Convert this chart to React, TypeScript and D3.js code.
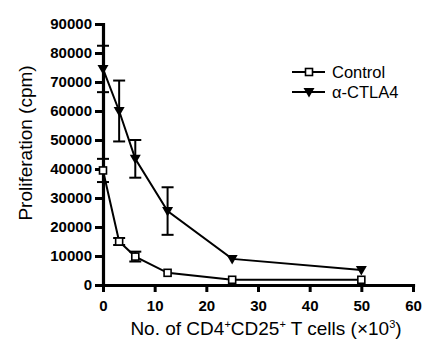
import React, { useEffect, useRef } from 'react';
import * as d3 from 'd3';

// valores
const cells = [0, 3.125, 6.25, 12.5, 25, 50];
const controlMean = [39500, 15000, 9800, 4200, 1800, 1800];
const controlErr = [4000, 1200, 1700, 0, 0, 0];
const ctlaMean = [74500, 60000, 43500, 25500, 9000, 5200];
const ctlaErr = [8000, 10500, 6500, 8200, 0, 0];
const xTicks = [0, 10, 20, 30, 40, 50, 60];
const yTicks = [0, 10000, 20000, 30000, 40000, 50000, 60000, 70000, 80000, 90000];
const seriesNames = ['Control', 'α-CTLA4'];

const W = 444;
const H = 358;
const margin = { top: 24, right: 31, bottom: 73, left: 103 };
const FONT = '"Liberation Sans", Arial, Helvetica, sans-serif';

const App = () => {
  const ref = useRef<SVGSVGElement | null>(null);

  useEffect(() => {
    const svg = d3.select(ref.current);
    svg.selectAll('*').remove();

    const x = d3.scaleLinear().domain([0, 60]).range([margin.left, W - margin.right]);
    const y = d3.scaleLinear().domain([0, 90000]).range([H - margin.bottom, margin.top]);

    // Ejes
    const gx = svg.append('g')
      .attr('transform', `translate(0,${y(0)})`)
      .call(d3.axisBottom(x).tickValues(xTicks).tickFormat(d3.format('d')).tickSize(7).tickSizeOuter(0).tickPadding(8));
    const gy = svg.append('g')
      .attr('transform', `translate(${x(0)},0)`)
      .call(d3.axisLeft(y).tickValues(yTicks).tickFormat(d3.format('d')).tickSize(8).tickSizeOuter(0).tickPadding(3));
    [gx, gy].forEach(g => {
      g.select('.domain').attr('stroke', '#000').attr('stroke-width', 3.2).attr('stroke-linecap', 'square');
      g.selectAll('.tick line').attr('stroke', '#000').attr('stroke-width', 3);
      g.selectAll('.tick text')
        .attr('fill', '#000')
        .style('font-family', FONT)
        .style('font-size', '15px')
        .style('font-weight', 'bold');
    });

    const line = d3.line<[number, number]>().x(d => x(d[0])).y(d => y(d[1]));

    const drawMarker = (g: any, cx: number, cy: number, kind: 'square' | 'tri') => {
      if (kind === 'square') {
        g.append('rect')
          .attr('x', cx - 3.5).attr('y', cy - 3.5).attr('width', 7).attr('height', 7)
          .attr('fill', '#fff').attr('stroke', '#000').attr('stroke-width', 1.6);
      } else {
        g.append('path')
          .attr('d', `M${cx - 5.5},${cy - 4}L${cx + 5.5},${cy - 4}L${cx},${cy + 5.5}Z`)
          .attr('fill', '#000');
      }
    };

    const drawSeries = (means: number[], errs: number[], kind: 'square' | 'tri') => {
      const g = svg.append('g');
      g.append('path')
        .datum(cells.map((c, i) => [c, means[i]] as [number, number]))
        .attr('d', line)
        .attr('fill', 'none')
        .attr('stroke', '#000')
        .attr('stroke-width', 2);
      // barras de error
      cells.forEach((c, i) => {
        if (!errs[i]) return;
        const cx = x(c);
        const y1 = y(means[i] + errs[i]);
        const y2 = y(means[i] - errs[i]);
        g.append('line').attr('x1', cx).attr('x2', cx).attr('y1', y1).attr('y2', y2)
          .attr('stroke', '#000').attr('stroke-width', 2);
        [y1, y2].forEach(yy => {
          g.append('line').attr('x1', cx - 6).attr('x2', cx + 6).attr('y1', yy).attr('y2', yy)
            .attr('stroke', '#000').attr('stroke-width', 2);
        });
      });
      cells.forEach((c, i) => {
        drawMarker(g, x(c), y(means[i]), kind);
      });
    };

    drawSeries(controlMean, controlErr, 'square');
    drawSeries(ctlaMean, ctlaErr, 'tri');

    // Leyenda
    const legend = svg.append('g').attr('transform', 'translate(292,72)');
    seriesNames.forEach((name, i) => {
      const ly = i * 20;
      legend.append('line').attr('x1', 0).attr('x2', 33).attr('y1', ly).attr('y2', ly)
        .attr('stroke', '#000').attr('stroke-width', 2);
      drawMarker(legend, 17, ly, i === 0 ? 'square' : 'tri');
      legend.append('text')
        .attr('x', 40).attr('y', ly + 6)
        .style('font-family', FONT).style('font-size', '16.5px')
        .text(name);
    });

    // Etiquetas de ejes
    svg.append('text')
      .attr('transform', `translate(32,143) rotate(-90)`)
      .attr('text-anchor', 'middle')
      .style('font-family', FONT).style('font-size', '19px')
      .text('Proliferation (cpm)');

    const xl = svg.append('text')
      .attr('x', 266).attr('y', 335)
      .attr('text-anchor', 'middle')
      .style('font-family', FONT).style('font-size', '19px');
    xl.append('tspan').text('No. of CD4');
    xl.append('tspan').attr('dy', -7).style('font-size', '11px').text('+');
    xl.append('tspan').attr('dy', 7).text('CD25');
    xl.append('tspan').attr('dy', -7).style('font-size', '11px').text('+');
    xl.append('tspan').attr('dy', 7).text(' T cells (×10');
    xl.append('tspan').attr('dy', -7).style('font-size', '11px').text('3');
    xl.append('tspan').attr('dy', 7).text(')');
  }, []);

  return (
    <svg ref={ref} width={W} height={H} style={{ position: 'absolute', left: 0, top: 0, background: '#fff' }} />
  );
};

export default App;
